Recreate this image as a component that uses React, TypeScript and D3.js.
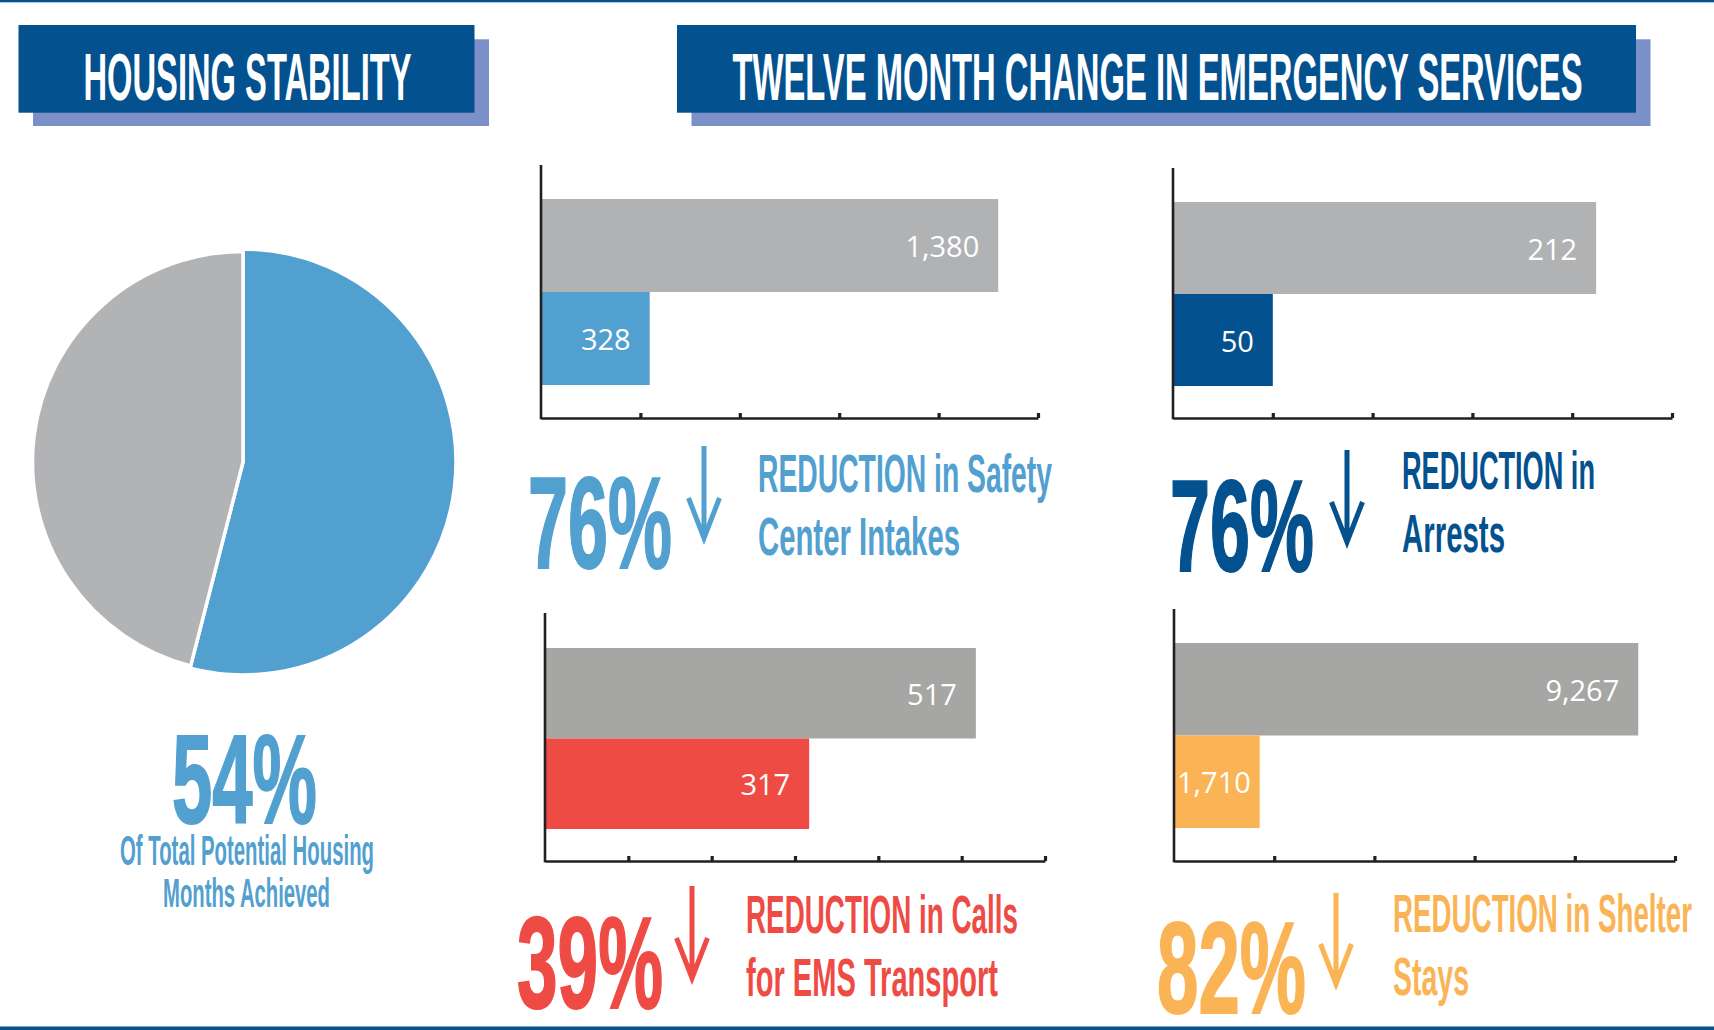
import { useEffect, useRef } from 'react';
import * as d3 from 'd3';

// housing stability pie
const housingLabels = ['Achieved', 'Not achieved'];
const housingValues = [54, 46];
const housingColors = ['#52a0d0', '#b2b3b5'];

// emergency services panels
const serviceNames = ['Safety Center Intakes', 'Arrests', 'Calls for EMS Transport', 'Shelter Stays'];
const beforeValues = [1380, 212, 517, 9267];
const afterValues = [328, 50, 317, 1710];
const axisMax = [1500, 250, 600, 10000];
const tickStep = [300, 50, 100, 2000];
const reductionText = ['76%', '76%', '39%', '82%'];
const captionLine1 = ['REDUCTION in Safety', 'REDUCTION in', 'REDUCTION in Calls', 'REDUCTION in Shelter'];
const captionLine2 = ['Center Intakes', 'Arrests', 'for EMS Transport', 'Stays'];
const accentColors = ['#52a0d0', '#04518f', '#ef4b45', '#fbb455'];
const beforeColors = ['#b1b2b4', '#b1b2b4', '#a6a6a4', '#a6a6a4'];

const NAVY = '#04518f';
const SHADOW = '#7b8fc8';
const AXIS = '#231f20';
const COND = "'Liberation Sans Narrow', 'Liberation Sans', Arial, sans-serif";

// where each panel sits on the page
const panelLayout = [
  { x0: 541, x1: 1038, axisTop: 165, baseline: 418, barTop: 199, barBottom: 385,
    pctX: 528, pctY: 568, pctW: 144, arrowX: 704, arrowTop: 446, arrowBottom: 538,
    capX: 758, cap1Y: 492, cap1W: 294, cap2Y: 555, cap2W: 202 },
  { x0: 1173, x1: 1672, axisTop: 168, baseline: 418, barTop: 202, barBottom: 386,
    pctX: 1170, pctY: 571, pctW: 144, arrowX: 1347, arrowTop: 450, arrowBottom: 542,
    capX: 1402, cap1Y: 489, cap1W: 193, cap2Y: 552, cap2W: 103 },
  { x0: 545, x1: 1045, axisTop: 613, baseline: 861, barTop: 648, barBottom: 829,
    pctX: 517, pctY: 1008, pctW: 146, arrowX: 692, arrowTop: 886, arrowBottom: 978,
    capX: 746, cap1Y: 933, cap1W: 272, cap2Y: 996, cap2W: 252 },
  { x0: 1174, x1: 1675, axisTop: 609, baseline: 861, barTop: 643, barBottom: 828,
    pctX: 1157, pctY: 1013, pctW: 149, arrowX: 1336, arrowTop: 893, arrowBottom: 984,
    capX: 1393, cap1Y: 932, cap1W: 299, cap2Y: 995, cap2W: 76 },
];

const W = 1714;
const H = 1030;

export default function App() {
  const svgRef = useRef<SVGSVGElement>(null);

  useEffect(() => {
    if (!svgRef.current) return;
    const svg = d3.select(svgRef.current);
    svg.selectAll('*').remove();

    // page frame
    svg.append('rect').attr('x', 0).attr('y', 0).attr('width', W).attr('height', 2.3).attr('fill', NAVY);
    svg.append('rect').attr('x', 0).attr('y', 1026.5).attr('width', W).attr('height', 3.5).attr('fill', NAVY);

    // title boxes
    const headers = [
      { text: 'HOUSING STABILITY', x: 18.5, w: 456, tx: 83.5, tw: 328 },
      { text: 'TWELVE MONTH CHANGE IN EMERGENCY SERVICES', x: 677, w: 959, tx: 732.5, tw: 850 },
    ];
    headers.forEach(h => {
      svg.append('rect').attr('x', h.x + 14.5).attr('y', 39.3).attr('width', h.w).attr('height', 86.7).attr('fill', SHADOW);
      svg.append('rect').attr('x', h.x).attr('y', 25).attr('width', h.w).attr('height', 87.7).attr('fill', NAVY);
      svg.append('text')
        .attr('x', h.tx)
        .attr('y', 100)
        .attr('fill', '#fff')
        .attr('font-family', COND)
        .attr('font-weight', 'bold')
        .attr('font-size', 66)
        .attr('textLength', h.tw)
        .attr('lengthAdjust', 'spacingAndGlyphs')
        .text(h.text);
    });

    // pie
    const pieG = svg.append('g').attr('transform', 'translate(243,462)');
    const pie = d3.pie<number>().sort(null).startAngle(0).endAngle(Math.PI * 2);
    const arcs = pie(housingValues);
    const radii = [213, 210.5];
    pieG.selectAll('path')
      .data(arcs)
      .join('path')
      .attr('d', (d, i) => d3.arc<d3.PieArcDatum<number>>().innerRadius(0).outerRadius(radii[i])(d) || '')
      .attr('fill', (d, i) => housingColors[i])
      .attr('stroke', '#fff')
      .attr('stroke-width', 3.5)
      .append('title')
      .text((d, i) => `${housingLabels[i]}: ${d.data}%`);

    svg.append('text')
      .attr('x', 172).attr('y', 823)
      .attr('fill', housingColors[0])
      .attr('stroke', housingColors[0]).attr('stroke-width', 2)
      .attr('font-family', COND).attr('font-weight', 'bold').attr('font-size', 127)
      .attr('textLength', 145).attr('lengthAdjust', 'spacingAndGlyphs')
      .text(`${housingValues[0]}%`);
    svg.append('text')
      .attr('x', 120).attr('y', 865)
      .attr('fill', housingColors[0])
      .attr('font-family', COND).attr('font-weight', 'bold').attr('font-size', 42)
      .attr('textLength', 254).attr('lengthAdjust', 'spacingAndGlyphs')
      .text('Of Total Potential Housing');
    svg.append('text')
      .attr('x', 163).attr('y', 907)
      .attr('fill', housingColors[0])
      .attr('font-family', COND).attr('font-weight', 'bold').attr('font-size', 40)
      .attr('textLength', 167).attr('lengthAdjust', 'spacingAndGlyphs')
      .text('Months Achieved');

    // bar panels
    panelLayout.forEach((p, i) => {
      const g = svg.append('g').attr('class', `panel-${i}`);
      const x = d3.scaleLinear().domain([0, axisMax[i]]).range([p.x0, p.x1]);
      const y = d3.scaleBand<string>().domain(['before', 'after']).range([p.barTop, p.barBottom]).padding(0);
      const rows = [
        { key: 'before', value: beforeValues[i], color: beforeColors[i] },
        { key: 'after', value: afterValues[i], color: accentColors[i] },
      ];

      g.selectAll('rect.bar')
        .data(rows)
        .join('rect')
        .attr('class', 'bar')
        .attr('x', x(0))
        .attr('y', d => y(d.key) || 0)
        .attr('width', d => x(d.value) - x(0))
        .attr('height', y.bandwidth())
        .attr('fill', d => d.color)
        .append('title')
        .text(d => `${serviceNames[i]} (${d.key}): ${d.value}`);

      g.selectAll('text.val')
        .data(rows)
        .join('text')
        .attr('class', 'val')
        .attr('x', d => x(d.value) - 19)
        .attr('y', d => (y(d.key) || 0) + y.bandwidth() / 2 + 11.5)
        .attr('text-anchor', 'end')
        .attr('fill', '#fff')
        .attr('font-family', "'Open Sans', sans-serif")
        .attr('font-size', 29)
        .text(d => d3.format(',')(d.value))
        .each(function (d) {
          const w = (this as SVGTextElement).getComputedTextLength();
          if (x(d.value) - 19 - w < x(0) + 3) {
            d3.select(this).attr('text-anchor', 'start').attr('x', x(0) + 3);
          }
        });

      const ticks = d3.range(tickStep[i], axisMax[i] + tickStep[i] / 2, tickStep[i]);
      g.append('g')
        .attr('transform', `translate(0,${p.baseline})`)
        .call(d3.axisBottom(x).tickValues(ticks).tickSize(-5).tickSizeOuter(0).tickFormat(() => ''))
        .call(a => a.select('.domain').attr('stroke', AXIS).attr('stroke-width', 2.6))
        .call(a => a.selectAll('.tick line').attr('stroke', AXIS).attr('stroke-width', 3.2));

      g.append('line')
        .attr('x1', p.x0).attr('x2', p.x0)
        .attr('y1', p.axisTop).attr('y2', p.baseline + 1.3)
        .attr('stroke', AXIS).attr('stroke-width', 2.6);

      // big percentage
      g.append('text')
        .attr('x', p.pctX).attr('y', p.pctY)
        .attr('fill', accentColors[i])
        .attr('stroke', accentColors[i]).attr('stroke-width', 2)
        .attr('font-family', COND).attr('font-weight', 'bold').attr('font-size', 129)
        .attr('textLength', p.pctW).attr('lengthAdjust', 'spacingAndGlyphs')
        .text(reductionText[i]);

      // down arrow
      g.append('path')
        .attr('d', `M${p.arrowX},${p.arrowTop}V${p.arrowBottom - 2}M${p.arrowX - 15.5},${p.arrowBottom - 40}L${p.arrowX},${p.arrowBottom}L${p.arrowX + 15.5},${p.arrowBottom - 40}`)
        .attr('fill', 'none')
        .attr('stroke', accentColors[i])
        .attr('stroke-width', 5);

      g.append('text')
        .attr('x', p.capX).attr('y', p.cap1Y)
        .attr('fill', accentColors[i])
        .attr('font-family', COND).attr('font-weight', 'bold').attr('font-size', 54)
        .attr('textLength', p.cap1W).attr('lengthAdjust', 'spacingAndGlyphs')
        .text(captionLine1[i]);
      g.append('text')
        .attr('x', p.capX).attr('y', p.cap2Y)
        .attr('fill', accentColors[i])
        .attr('font-family', COND).attr('font-weight', 'bold').attr('font-size', 54)
        .attr('textLength', p.cap2W).attr('lengthAdjust', 'spacingAndGlyphs')
        .text(captionLine2[i]);
    });
  }, []);

  return (
    <div style={{ position: 'absolute', left: 0, top: 0, width: W, height: H, background: '#fff' }}>
      <svg ref={svgRef} width={W} height={H} style={{ display: 'block' }} />
    </div>
  );
}
